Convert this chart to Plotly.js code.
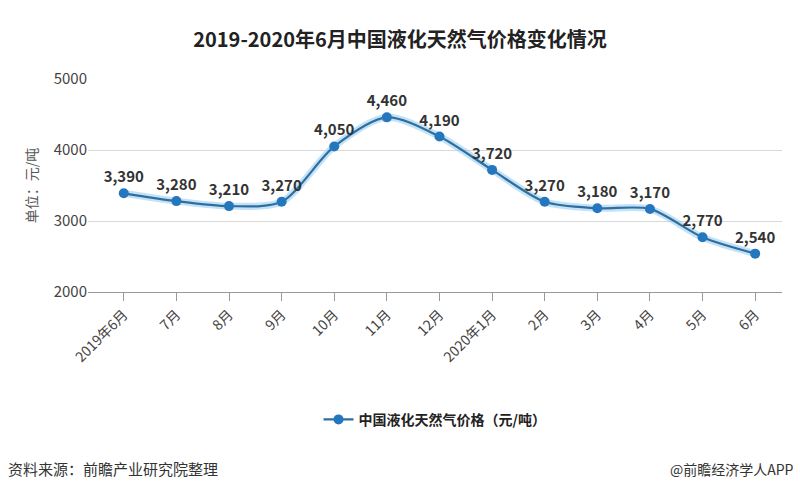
<!DOCTYPE html>
<html><head><meta charset="utf-8">
<script src="https://cdn.plot.ly/plotly-3.0.1.min.js"></script>
<style>body{margin:0;background:#fff}#c{width:800px;height:500px}</style>
</head><body><div id="c"></div>
<script>
const categories = ["2019年6月","7月","8月","9月","10月","11月","12月","2020年1月","2月","3月","4月","5月","6月"];
const prices = [3390,3280,3210,3270,4050,4460,4190,3720,3270,3180,3170,2770,2540];
const labels = prices.map(v => v.toLocaleString("en-US"));
const F = '"Noto Sans CJK SC", "Noto Sans", sans-serif';
const traces = [
  {x: categories, y: prices, type: "scatter", mode: "lines", line: {shape: "spline", smoothing: 0.8, color: "rgba(120,190,240,0.45)", width: 7}, hoverinfo: "skip", showlegend: false},
  {x: categories, y: prices, type: "scatter", mode: "lines+markers+text", name: "中国液化天然气价格（元/吨）",
   line: {shape: "spline", smoothing: 0.8, color: "#2f6e9e", width: 2.2},
   marker: {symbol: "circle", size: 10, color: "#2577bd"},
   text: labels, textposition: "top center",
   textfont: {family: F, size: 15, color: "#333", weight: "bold"}}
];
const layout = {
  width: 800, height: 500,
  margin: {l: 88, r: 18, t: 79, b: 208},
  paper_bgcolor: "#fff", plot_bgcolor: "#fff",
  title: {text: "<b>2019-2020年6月中国液化天然气价格变化情况</b>", x: 0.5, y: 0.935, xanchor: "center", font: {family: F, size: 20, color: "#222"}},
  xaxis: {type: "category", range: [-0.68, 12.51], showgrid: false, showline: true, linecolor: "#999", linewidth: 1,
    ticks: "outside", ticklen: 8, tickcolor: "#999", tickangle: -45,
    tickfont: {family: F, size: 14, color: "#444"}},
  yaxis: {range: [2000, 5000], dtick: 1000, showgrid: true, gridcolor: "#d9d9d9", zeroline: false, showline: false,
    tickfont: {family: F, size: 15, color: "#444"}, ticks: "", ticklen: 4,
    title: {text: "单位：元/吨", font: {family: F, size: 14, color: "#555"}, standoff: 12}},
  showlegend: true,
  legend: {orientation: "h", x: 0.5, xanchor: "center", y: -0.6, yanchor: "middle", font: {family: F, size: 14, color: "#222", weight: "bold"}},
  annotations: [
    {text: "资料来源：前瞻产业研究院整理", xref: "paper", yref: "paper", x: -0.118, y: -0.83, xanchor: "left", yanchor: "middle", showarrow: false, font: {family: F, size: 15, color: "#333"}},
    {text: "@前瞻经济学人APP", xref: "paper", yref: "paper", x: 1.02, y: -0.83, xanchor: "right", yanchor: "middle", showarrow: false, font: {family: F, size: 14, color: "#333"}}
  ]
};
Plotly.newPlot("c", traces, layout, {staticPlot: true});
</script></body></html>
